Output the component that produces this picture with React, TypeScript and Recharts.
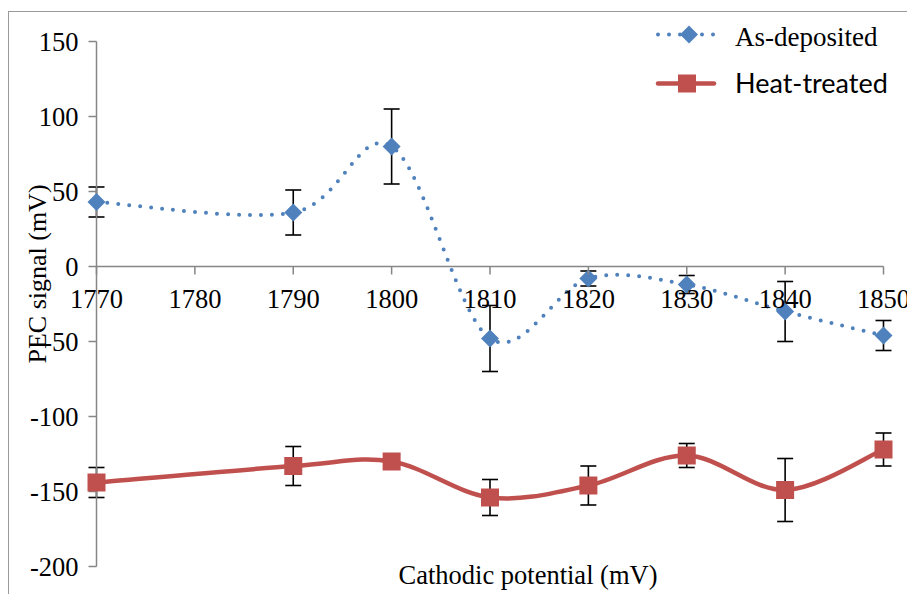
import React from "react";
import { LineChart, Line, XAxis, YAxis, ErrorBar, ReferenceLine, Legend } from "recharts";

// ---- data ----
const potential = [1770, 1790, 1800, 1810, 1820, 1830, 1840, 1850];
const asDeposited = [43, 36, 80, -48, -8, -12, -30, -46];
const asDepositedErr = [10, 15, 25, 22, 5, 6, 20, 10];
const heatTreated = [-144, -133, -130, -154, -146, -126, -149, -122];
const heatTreatedErr = [10, 13, 3, 12, 13, 8, 21, 11];
const xTicks = [1770, 1780, 1790, 1800, 1810, 1820, 1830, 1840, 1850];
const yTicks = [-200, -150, -100, -50, 0, 50, 100, 150];
const seriesNames = ["As-deposited", "Heat-treated"];
const xLabel = "Cathodic potential (mV)";
const yLabel = "PEC signal (mV)";

const data = potential.map((p, i) => ({
  potential: p,
  asDep: asDeposited[i],
  asDepErr: asDepositedErr[i],
  heat: heatTreated[i],
  heatErr: heatTreatedErr[i],
}));

// ---- layout ----
const CHART_W = 900;
const CHART_H = 582;
const X_AXIS_H = 27.5;
const MARGIN = { top: 29.5, right: 25.5, bottom: 0, left: 7.5 };
const YAXIS_W = 80;
const PLOT_H = CHART_H - MARGIN.top - MARGIN.bottom - X_AXIS_H;
const Y_MIN = -200;
const Y_MAX = 150;
const ZERO_Y = MARGIN.top + (PLOT_H * Y_MAX) / (Y_MAX - Y_MIN);

const BLUE = "#4F81BD";
const RED = "#C0504D";
const AXIS = "#868686";
const SERIF = "Liberation Serif";
const TICK_FS = 26.5;

// Excel-like smoothing (Catmull-Rom style Bezier)
function excelSmooth(context: any) {
  let pts: number[][] = [];
  return {
    areaStart() {},
    areaEnd() {},
    lineStart() {
      pts = [];
    },
    point(x: number, y: number) {
      pts.push([+x, +y]);
    },
    lineEnd() {
      const n = pts.length;
      if (!n) return;
      context.moveTo(pts[0][0], pts[0][1]);
      for (let i = 0; i < n - 1; i++) {
        const p0 = pts[i - 1] ?? pts[i];
        const p1 = pts[i];
        const p2 = pts[i + 1];
        const p3 = pts[i + 2] ?? pts[i + 1];
        context.bezierCurveTo(
          p1[0] + (p2[0] - p0[0]) / 6,
          p1[1] + (p2[1] - p0[1]) / 6,
          p2[0] - (p3[0] - p1[0]) / 6,
          p2[1] - (p3[1] - p1[1]) / 6,
          p2[0],
          p2[1]
        );
      }
    },
  };
}

const Diamond = (props: any) => {
  const { cx, cy, index } = props;
  if (cx == null || cy == null) return <g key={index} />;
  const r = 9;
  return (
    <path
      key={index}
      d={`M${cx},${cy - r}L${cx + r},${cy}L${cx},${cy + r}L${cx - r},${cy}Z`}
      fill={BLUE}
    />
  );
};

const Square = (props: any) => {
  const { cx, cy, index } = props;
  if (cx == null || cy == null) return <g key={index} />;
  const s = 18;
  return <rect key={index} x={cx - s / 2} y={cy - s / 2} width={s} height={s} fill={RED} />;
};

const XTick = (props: any) => {
  const { x, payload } = props;
  return (
    <g>
      <line x1={x} y1={ZERO_Y} x2={x} y2={ZERO_Y + 8} stroke={AXIS} strokeWidth={1.5} />
      <text x={x} y={ZERO_Y + 41} textAnchor="middle" fontFamily={SERIF} fontSize={TICK_FS} fill="#000">
        {payload.value}
      </text>
    </g>
  );
};

const YTick = (props: any) => {
  const { x, y, payload } = props;
  return (
    <text x={x} y={y} textAnchor="end" dominantBaseline="central" fontFamily={SERIF} fontSize={TICK_FS} fill="#000">
      {payload.value}
    </text>
  );
};

const renderLegend = () => (
  <svg width={260} height={100} style={{ display: "block" }}>
    <line x1={8} y1={22.5} x2={70} y2={22.5} stroke={BLUE} strokeWidth={4} strokeDasharray="0 11" strokeLinecap="round" />
    <path d="M39,13.5L48,22.5L39,31.5L30,22.5Z" fill={BLUE} />
    <text x={85} y={24.5} dominantBaseline="central" fontFamily={SERIF} fontSize={27} fill="#000">
      {seriesNames[0]}
    </text>
    <line x1={8} y1={71.5} x2={64} y2={71.5} stroke={RED} strokeWidth={4.5} strokeLinecap="round" />
    <rect x={28} y={62.5} width={18} height={18} fill={RED} />
    <text x={85} y={70.5} dominantBaseline="central" fontFamily="Lato" fontSize={27} fill="#000">
      {seriesNames[1]}
    </text>
  </svg>
);

export default function App() {
  return (
    <div
      style={{
        position: "relative",
        marginTop: 3,
        width: 906,
        height: 583,
        borderTop: "1.5px solid #9a9a9a",
        borderLeft: "1.5px solid #9a9a9a",
        overflow: "hidden",
      }}
    >
      <LineChart width={CHART_W} height={CHART_H} data={data} margin={MARGIN}>
        <XAxis
          type="number"
          dataKey="potential"
          domain={[1770, 1850]}
          ticks={xTicks}
          interval={0}
          axisLine={false}
          tickLine={false}
          height={X_AXIS_H}
          tick={<XTick />}
          label={({ viewBox }: any) => (
            <text
              x={viewBox.x + viewBox.width / 2 + 38}
              y={572}
              textAnchor="middle"
              fontFamily={SERIF}
              fontSize={26.5}
              fill="#000"
            >
              {xLabel}
            </text>
          )}
        />
        <YAxis
          type="number"
          domain={[Y_MIN, Y_MAX]}
          ticks={yTicks}
          interval={0}
          width={YAXIS_W}
          axisLine={{ stroke: AXIS, strokeWidth: 1.5 }}
          tickLine={{ stroke: AXIS, strokeWidth: 1.5 }}
          tickSize={8}
          tickMargin={10}
          tick={<YTick />}
          label={() => (
            <text
              x={28.5}
              y={262}
              transform="rotate(-90 28.5 262)"
              textAnchor="middle"
              dominantBaseline="central"
              fontFamily={SERIF}
              fontSize={26}
              fill="#000"
            >
              {yLabel}
            </text>
          )}
        />
        <ReferenceLine y={0} stroke={AXIS} strokeWidth={1.5} />
        <Legend
          layout="horizontal"
          verticalAlign="middle"
          align="center"
          content={renderLegend}
          wrapperStyle={{ left: 640.5, top: 0, width: 260 }}
        />
        <Line
          name={seriesNames[0]}
          dataKey="asDep"
          type={excelSmooth as any}
          stroke={BLUE}
          strokeWidth={4}
          strokeDasharray="0 11"
          strokeLinecap="round"
          dot={Diamond}
          activeDot={false}
          isAnimationActive={false}
        >
          <ErrorBar dataKey="asDepErr" width={8} stroke="#000" strokeWidth={1.6} direction="y" />
        </Line>
        <Line
          name={seriesNames[1]}
          dataKey="heat"
          type={excelSmooth as any}
          stroke={RED}
          strokeWidth={4.5}
          dot={Square}
          activeDot={false}
          isAnimationActive={false}
        >
          <ErrorBar dataKey="heatErr" width={8} stroke="#000" strokeWidth={1.6} direction="y" />
        </Line>
      </LineChart>
    </div>
  );
}
